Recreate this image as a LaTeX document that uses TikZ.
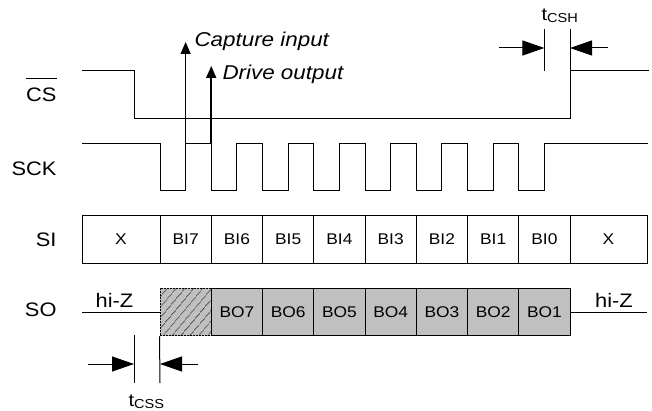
\documentclass[tikz,border=0pt]{standalone}
\usepackage{fontspec}
\setmainfont{Liberation Sans}[FakeStretch=1.12]
\usetikzlibrary{arrows.meta,patterns.meta}
\definecolor{boxgray}{HTML}{C0C0C0}
\definecolor{hatchgray}{HTML}{505050}
\newcommand{\tsub}[1]{\raisebox{-2pt}{\fontsize{13}{13}\selectfont #1}}

\begin{document}
\begin{tikzpicture}[x=1pt, y=-1pt, line width=1pt,
    lbl/.style={anchor=east, inner sep=0, font=\fontsize{19.5}{20}\selectfont},
    note/.style={anchor=base west, inner sep=0, font=\fontsize{20}{20}\selectfont\itshape},
    tlbl/.style={anchor=base west, inner sep=0, font=\fontsize{18}{18}\selectfont},
    databox/.style={draw, minimum width=51.25pt, minimum height=47.5pt, inner sep=0,
        font=\fontsize{15.5}{16}\selectfont},
    tarrow/.style={-{Triangle[length=22pt,width=15pt]}},
    stem/.style={-{Triangle[length=12pt,width=10pt]}}]
    \useasboundingbox (0,0) rectangle (652,411);

    % signal names
    \node[lbl] (cs) at (57,95) {CS};
    \draw ([yshift=9pt]cs.north west) -- ([yshift=9pt]cs.north east);
    \node[lbl] (sck) at (57,168.5) {SCK};
    \node[lbl] (si) at (57,240) {SI};
    \node[lbl] (so) at (57,310) {SO};

    % waveforms
    \draw (82,71) -- (134,71) -- (134,119) -- (570,119) -- (570,71) -- (649,71);
    \draw (82,144) foreach \k in {0,...,7} { -- ({160+51.25*\k},144) -- ++(0,47) -- ++(25.625,0) -- ++(0,-47) } -- (648,144);

    % SI
    \node[databox, minimum width=78pt] (sx0) at (121,239.5) {X};
    \foreach \b [count=\k from 0] in {7,...,0}
        \node[databox] (bi\b) at ({185.625+51.25*\k},239.5) {BI\b};
    \node[databox, minimum width=77pt] (sx1) at (608.5,239.5) {X};

    % SO
    \node[databox, preaction={fill=boxgray},
        preaction={pattern={Lines[angle=50,distance=6.5pt,line width=0.8pt]}, pattern color=hatchgray},
        dash pattern=on 2pt off 1pt] (hz) at (185.625,312) {};
    \foreach \b [count=\k] in {7,...,1}
        \node[databox, fill=boxgray] (bo\b) at ({185.625+51.25*\k},312) {BO\b};
    \coordinate (zl) at (82,312);
    \coordinate (zr) at (647,312);
    \draw (zl) -- (hz.west);
    \draw (bo1.east) -- (zr);
    \node[lbl, anchor=center] (hizl) at (114.5,300) {hi-Z};
    \node[lbl, anchor=center] (hizr) at (614,300) {hi-Z};

    % capture / drive
    \coordinate (capbot) at (185.625,144);
    \coordinate (captop) at (185.625,42);
    \draw[stem] (capbot) -- (captop);
    \node[note] (capture) at (194,47) {Capture input};
    \coordinate (drvbot) at (211.25,144);
    \coordinate (drvtop) at (211.25,66);
    \draw[stem, line width=1.6pt] (drvbot) -- (drvtop);
    \node[note] (drive) at (222,80) {Drive output};

    % tCSS
    \coordinate (ssa) at (134,335);
    \coordinate (ssb) at (134,383);
    \coordinate (ssc) at (160,383);
    \draw (ssa) -- (ssb);
    \draw (hz.south west) -- (ssc);
    \coordinate (ssl) at (88,364);
    \coordinate (ssr) at (198,364);
    \draw[tarrow] (ssl) -- (ssa |- ssl);
    \draw[tarrow] (ssr) -- (ssc |- ssr);
    \node[tlbl] (tcss) at (128,406) {t\tsub{CSS}};

    % tCSH
    \coordinate (sha) at (544.4,29);
    \coordinate (shb) at (544.4,71);
    \coordinate (shc) at (570,29);
    \draw (sha) -- (shb);
    \draw (shc) -- (570,71);
    \coordinate (shl) at (499,48);
    \coordinate (shr) at (608,48);
    \draw[tarrow] (shl) -- (sha |- shl);
    \draw[tarrow] (shr) -- (shc |- shr);
    \node[tlbl] (tcsh) at (541,21) {t\tsub{CSH}};
\end{tikzpicture}
\end{document}
